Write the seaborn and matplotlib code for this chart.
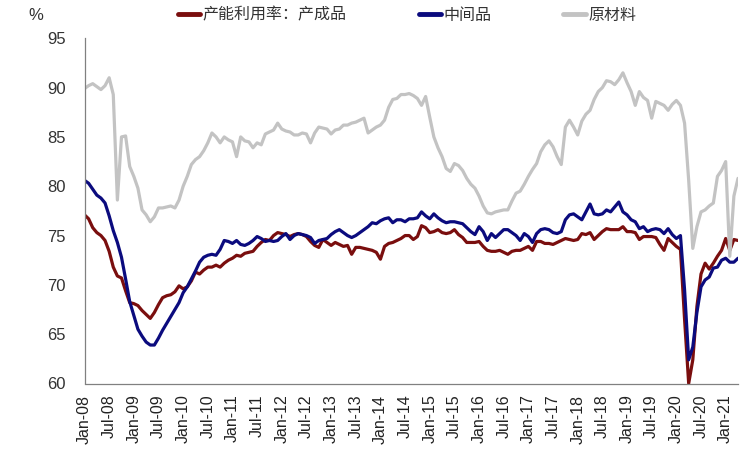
import numpy as np
import pandas as pd
import matplotlib
matplotlib.use("Agg")
import matplotlib.pyplot as plt
import seaborn as sns

# Monthly capacity utilisation, Jan-08 .. Apr-21 (%)
finished = [
    77.1, 76.7, 75.8, 75.3, 75.0, 74.5, 73.4, 71.8, 70.9, 70.7,
    69.4, 68.2, 68.1, 67.9, 67.4, 67.0, 66.6, 67.2, 68.0, 68.7,
    68.9, 69.0, 69.3, 69.9, 69.6, 69.8, 70.4, 71.3, 71.1, 71.5,
    71.8, 71.8, 72.0, 71.8, 72.2, 72.5, 72.7, 73.0, 72.9, 73.2,
    73.3, 73.4, 73.9, 74.3, 74.6, 74.5, 75.0, 75.3, 75.2, 75.1,
    74.9, 75.1, 75.2, 75.1, 74.9, 74.4, 74.0, 73.8, 74.6, 74.3,
    74.0, 74.3, 74.1, 73.9, 74.0, 73.1, 73.8, 73.8, 73.7, 73.6,
    73.5, 73.3, 72.6, 73.9, 74.2, 74.3, 74.5, 74.7, 75.0, 75.0,
    74.6, 74.9, 76.0, 75.8, 75.3, 75.4, 75.6, 75.3, 75.2, 75.3,
    75.6, 75.1, 74.8, 74.3, 74.3, 74.3, 74.4, 73.9, 73.5, 73.4,
    73.4, 73.5, 73.3, 73.1, 73.4, 73.5, 73.5, 73.7, 73.9, 73.5,
    74.4, 74.4, 74.2, 74.2, 74.1, 74.3, 74.5, 74.7, 74.6, 74.5,
    74.6, 75.2, 75.1, 75.3, 74.6, 75.0, 75.4, 75.7, 75.6, 75.6,
    75.6, 75.9, 75.4, 75.4, 75.3, 74.6, 74.9, 74.9, 74.9, 74.8,
    74.1, 73.5, 74.7, 74.3, 73.9, 73.6, 66.5, 60.0, 62.4, 67.8,
    71.1, 72.2, 71.6, 72.2, 72.9, 73.5, 74.7, 73.5, 74.6, 74.5,
]
intermediate = [
    80.6, 80.3, 79.7, 79.1, 78.8, 78.3, 77.0, 75.5, 74.3, 72.8,
    70.6, 68.3, 66.9, 65.5, 64.8, 64.2, 63.9, 63.9, 64.6, 65.4,
    66.1, 66.8, 67.5, 68.2, 69.2, 69.8, 70.6, 71.4, 72.3, 72.8,
    73.0, 73.1, 73.0, 73.6, 74.5, 74.4, 74.2, 74.5, 74.1, 74.0,
    74.2, 74.5, 74.9, 74.7, 74.4, 74.5, 74.4, 74.5, 74.9, 75.2,
    74.6, 75.0, 75.2, 75.1, 75.0, 74.8, 74.2, 74.5, 74.6, 74.7,
    75.1, 75.4, 75.6, 75.3, 75.0, 74.8, 75.0, 75.3, 75.6, 75.9,
    76.3, 76.2, 76.5, 76.7, 76.8, 76.3, 76.6, 76.6, 76.4, 76.7,
    76.7, 76.8, 77.4, 77.0, 76.7, 77.2, 76.8, 76.5, 76.3, 76.4,
    76.4, 76.3, 76.2, 75.8, 75.4, 75.1, 75.9, 75.4, 74.5, 75.2,
    74.8, 75.2, 75.6, 75.6, 75.3, 75.0, 74.5, 75.2, 74.9, 74.3,
    75.2, 75.6, 75.7, 75.6, 75.3, 75.2, 75.4, 76.6, 77.1, 77.2,
    76.9, 76.6, 77.4, 78.2, 77.2, 77.1, 77.2, 77.6, 77.4, 77.9,
    78.4, 77.4, 77.1, 76.6, 76.4, 75.7, 75.9, 75.4, 75.6, 75.7,
    75.6, 75.2, 75.7, 75.1, 74.7, 75.0, 69.5, 62.4, 63.7, 67.2,
    69.8, 70.5, 70.8, 71.7, 71.8, 72.5, 72.7, 72.3, 72.3, 72.7,
]
crude = [
    89.9, 90.2, 90.4, 90.1, 89.8, 90.2, 91.0, 89.3, 78.6, 85.0,
    85.1, 82.0, 81.0, 79.8, 77.6, 77.1, 76.4, 76.9, 77.8, 77.8,
    77.9, 78.0, 77.8, 78.6, 80.0, 81.0, 82.2, 82.7, 83.0, 83.6,
    84.4, 85.4, 85.0, 84.4, 85.0, 84.7, 84.5, 83.0, 85.0, 84.6,
    84.5, 83.9, 84.4, 84.2, 85.3, 85.5, 85.7, 86.4, 85.8, 85.6,
    85.5, 85.2, 85.2, 85.4, 85.3, 84.4, 85.4, 86.0, 85.9, 85.8,
    85.3, 85.7, 85.8, 86.2, 86.2, 86.4, 86.5, 86.7, 86.9, 85.4,
    85.7, 86.0, 86.2, 86.7, 88.0, 88.8, 88.9, 89.3, 89.3, 89.4,
    89.2, 88.9, 88.2, 89.1, 87.0, 85.0, 83.9, 83.0, 81.8, 81.5,
    82.3, 82.1, 81.6, 80.8, 80.2, 79.8, 79.0, 78.0, 77.3, 77.2,
    77.4, 77.5, 77.6, 77.6, 78.5, 79.3, 79.5, 80.2, 81.0, 81.7,
    82.3, 83.5, 84.2, 84.6, 84.0, 83.0, 82.2, 86.0, 86.7, 86.0,
    85.2, 86.6, 87.3, 87.7, 88.8, 89.6, 90.0, 90.7, 90.6, 90.3,
    90.8, 91.5, 90.5, 89.6, 88.2, 89.6, 89.0, 88.7, 86.9, 88.6,
    88.4, 88.2, 87.7, 88.3, 88.7, 88.2, 86.4, 80.6, 73.7, 75.9,
    77.4, 77.6, 78.0, 78.3, 81.0, 81.6, 82.5, 72.9, 79.0, 80.8,
]
series_names = ["产能利用率：产成品", "中间品", "原材料"]
series_colors = ["#7A0E0E", "#0B0B7E", "#C3C3C3"]
xtick_labels = [
    "Jan-08", "Jul-08", "Jan-09", "Jul-09", "Jan-10", "Jul-10", "Jan-11",
    "Jul-11", "Jan-12", "Jul-12", "Jan-13", "Jul-13", "Jan-14", "Jul-14",
    "Jan-15", "Jul-15", "Jan-16", "Jul-16", "Jan-17", "Jul-17", "Jan-18",
    "Jul-18", "Jan-19", "Jul-19", "Jan-20", "Jul-20", "Jan-21",
]
ytick_values = [60, 65, 70, 75, 80, 85, 90, 95]

sns.set_theme(style="white")
plt.rcParams["font.family"] = ["Liberation Sans", "Noto Sans CJK SC", "DejaVu Sans"]

n = len(finished)
df = pd.DataFrame({
    "month": np.tile(np.arange(n), 3),
    "value": finished + intermediate + crude,
    "series": np.repeat(series_names, n),
})

fig = plt.figure(figsize=(7.48, 4.57), dpi=100)
ax = fig.add_axes([84.5 / 748, 1 - 383.5 / 457, (738 - 84.5) / 748, (383.5 - 38.3) / 457])

sns.lineplot(data=df, x="month", y="value", hue="series", hue_order=series_names,
             palette=series_colors, linewidth=2.3, ax=ax, legend=True)

ax.set_xlim(0, n - 1)
ax.set_ylim(60, 95)
ax.set_xticks(np.arange(len(xtick_labels)) * 6)
ax.set_xticklabels(xtick_labels, rotation=90, fontsize=11.5, color="#222222")
ax.set_yticks(ytick_values)
ax.set_yticklabels([str(v) for v in ytick_values], fontsize=12, color="#333333")
ax.set_xlabel("")
ax.set_ylabel("")
ax.tick_params(axis="both", direction="in", length=3.5, width=0.8, color="#808080")
ax.tick_params(axis="y", pad=13.5)
ax.tick_params(axis="x", pad=8)
for s in ["top", "right"]:
    ax.spines[s].set_visible(False)
for s in ["left", "bottom"]:
    ax.spines[s].set_color("#808080")
    ax.spines[s].set_linewidth(0.9)

handles, labels = ax.get_legend_handles_labels()
leg = ax.legend(handles, labels, loc="center", bbox_to_anchor=(407 / 748, 1 - 15 / 457),
                bbox_transform=fig.transFigure, ncol=3, frameon=False, handlelength=1.4,
                handletextpad=0.15, columnspacing=4.5, fontsize=11.5)
for line in leg.get_lines():
    line.set_linewidth(3.5)
for t in leg.get_texts():
    t.set_color("#333333")

fig.text(28 / 748, 1 - 16 / 457, "%", ha="left", va="center", fontsize=12, color="#333333")

fig.savefig("out.png", dpi=100)
